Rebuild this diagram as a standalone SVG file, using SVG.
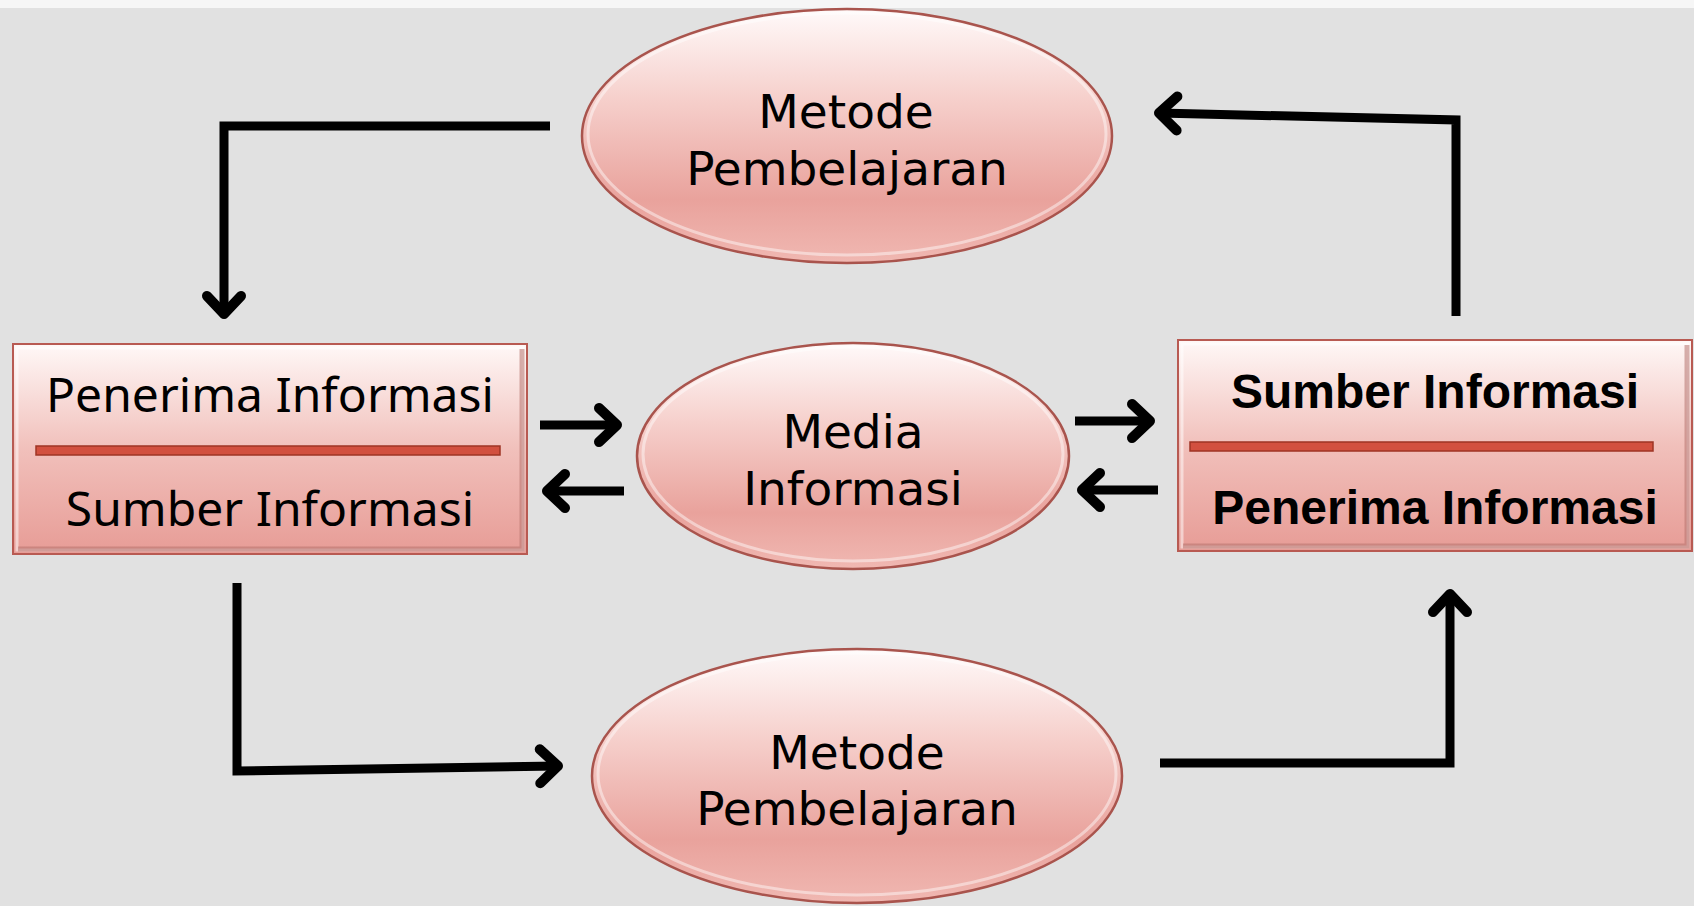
<svg xmlns="http://www.w3.org/2000/svg" width="1694" height="906" viewBox="0 0 1694 906">
<style>
.lbl{font-family:"Noto Sans","DejaVu Sans",sans-serif;font-size:48px;fill:#000;text-anchor:middle}
.olbl{font-family:"DejaVu Sans","Noto Sans",sans-serif;font-size:47px;fill:#000;text-anchor:middle}
.lblb{font-family:"Liberation Sans",Arial,sans-serif;font-weight:bold;font-size:48px;fill:#000;text-anchor:middle}
.conn{fill:none;stroke:#000;stroke-width:9;stroke-linejoin:miter}
.oval{fill:url(#gOval);stroke:#a9544d;stroke-width:2.5}
.ovalHi{fill:none;stroke:#ffffff;stroke-opacity:0.45;stroke-width:3}
.box{fill:url(#gBox);stroke:#b85a52;stroke-width:2}
.boxIn{fill:none;stroke:#ffffff;stroke-opacity:0.5;stroke-width:3}
.bevel{fill:none;stroke:#b4716b;stroke-opacity:0.55;stroke-width:5}
.div{fill:#d2503f;stroke:#9e3425;stroke-width:1.5}
</style>
<defs>
<linearGradient id="gOval" x1="0" y1="0" x2="0" y2="1">
<stop offset="0" stop-color="#fffafa"/>
<stop offset="0.35" stop-color="#f6d0cc"/>
<stop offset="0.75" stop-color="#e9a29c"/>
<stop offset="1" stop-color="#f0b8b2"/>
</linearGradient>
<linearGradient id="gBox" x1="0" y1="0" x2="0" y2="1">
<stop offset="0" stop-color="#fff8f7"/>
<stop offset="0.5" stop-color="#f1c0bb"/>
<stop offset="1" stop-color="#e79c96"/>
</linearGradient>
<marker id="arr" markerUnits="userSpaceOnUse" markerWidth="50" markerHeight="50" viewBox="-30 -25 40 50" refX="0" refY="0" orient="auto">
<path d="M -18 -17 L 0 0 L -18 17" fill="none" stroke="#000" stroke-width="10" stroke-linecap="round" stroke-linejoin="round"/>
</marker>
</defs>
<rect x="0" y="0" width="1694" height="906" fill="#e1e1e1"/>
<rect x="0" y="0" width="1694" height="8" fill="#f6f6f6"/>

<g id="connectors">
<path class="conn" d="M 550 126 L 224 126 L 224 314" marker-end="url(#arr)"/>
<path class="conn" d="M 1456 316 L 1456 120 L 1159 113" marker-end="url(#arr)"/>
<path class="conn" d="M 237 583 L 237 771 L 558 766" marker-end="url(#arr)"/>
<path class="conn" d="M 1160 763 L 1450 763 L 1450 594" marker-end="url(#arr)"/>
<path class="conn" d="M 540 425 L 617 425" marker-end="url(#arr)"/>
<path class="conn" d="M 624 491 L 547 491" marker-end="url(#arr)"/>
<path class="conn" d="M 1075 421 L 1150 421" marker-end="url(#arr)"/>
<path class="conn" d="M 1158 490 L 1082 490" marker-end="url(#arr)"/>
</g>

<g id="metode-top">
<ellipse class="oval" cx="847" cy="136" rx="265" ry="127"/>
<ellipse class="ovalHi" cx="847" cy="134" rx="259" ry="121"/>
<text class="olbl" x="846" y="128">Metode</text>
<text class="olbl" x="847" y="185">Pembelajaran</text>
</g>

<g id="media">
<ellipse class="oval" cx="853" cy="456" rx="216" ry="113"/>
<ellipse class="ovalHi" cx="853" cy="454" rx="210" ry="107"/>
<text class="olbl" x="853" y="448">Media</text>
<text class="olbl" x="853" y="505">Informasi</text>
</g>

<g id="metode-bottom">
<ellipse class="oval" cx="857" cy="776" rx="265" ry="127"/>
<ellipse class="ovalHi" cx="857" cy="774" rx="259" ry="121"/>
<text class="olbl" x="857" y="769">Metode</text>
<text class="olbl" x="857" y="825">Pembelajaran</text>
</g>

<g id="box-left">
<rect class="box" x="13" y="344" width="514" height="210"/>
<rect class="boxIn" x="17" y="348" width="506" height="202"/>
<path class="bevel" d="M 522 349 L 522 549 L 18 549"/>
<rect class="div" x="36" y="446" width="464" height="9"/>
<text class="lbl" x="270" y="412">Penerima Informasi</text>
<text class="lbl" x="270" y="526">Sumber Informasi</text>
</g>

<g id="box-right">
<rect class="box" x="1178" y="340" width="514" height="211"/>
<rect class="boxIn" x="1182" y="344" width="506" height="203"/>
<path class="bevel" d="M 1687 345 L 1687 546 L 1183 546"/>
<rect class="div" x="1190" y="442" width="463" height="9"/>
<text class="lblb" x="1435" y="408">Sumber Informasi</text>
<text class="lblb" x="1435" y="524">Penerima Informasi</text>
</g>
</svg>
